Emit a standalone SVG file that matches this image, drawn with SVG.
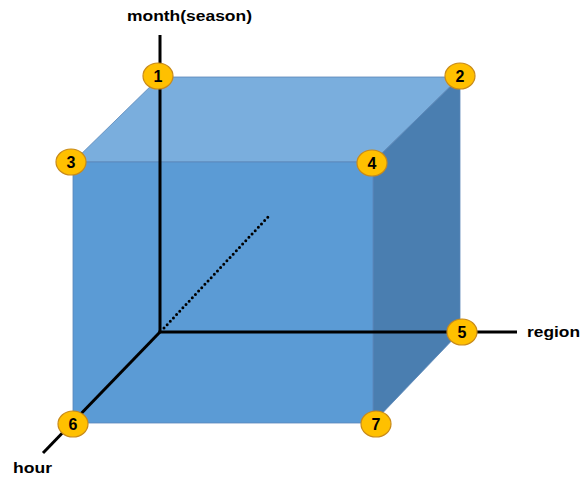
<svg xmlns="http://www.w3.org/2000/svg" width="582" height="479" viewBox="0 0 582 479">
<style>
.face{stroke:#5a86b8;stroke-width:0.8}
.axis{stroke:#000;stroke-width:3;fill:none}
.badge ellipse{fill:#ffc000;stroke:#c88a1a;stroke-width:1.2}
.badge text{font-family:"Liberation Sans",Arial,sans-serif;font-weight:bold;font-size:16px;fill:#000;text-anchor:middle}
.label{font-family:"Liberation Sans",Arial,sans-serif;font-weight:bold;font-size:15px;fill:#000}
</style>
<rect width="582" height="479" fill="#fff"/>
<g id="cube">
<polygon class="face" points="73,162 160,77 460,77 373,162" fill="#7aaedd"/>
<polygon class="face" points="373,162 460,77 460,332 373,423" fill="#4a7eb0"/>
<rect class="face" x="73" y="162" width="300" height="261" fill="#5b9bd5"/>
</g>
<g id="connectors">
<line class="axis" x1="160" y1="35" x2="160" y2="333"/>
<line class="axis" x1="158.5" y1="332" x2="517" y2="332"/>
<line class="axis" x1="160" y1="332" x2="43" y2="453"/>
<line x1="164" y1="328" x2="268" y2="217" stroke="#000" stroke-width="3" stroke-dasharray="0 4.6" stroke-linecap="round"/>
</g>
<g id="label-month"><text class="label" x="127" y="21" textLength="125" lengthAdjust="spacingAndGlyphs">month(season)</text></g>
<g id="label-region"><text class="label" x="527" y="337" textLength="53" lengthAdjust="spacingAndGlyphs">region</text></g>
<g id="label-hour"><text class="label" x="13" y="473" textLength="39" lengthAdjust="spacingAndGlyphs">hour</text></g>
<g id="n1" class="badge"><ellipse cx="158" cy="76" rx="15" ry="13"/><text x="158" y="82">1</text></g>
<g id="n2" class="badge"><ellipse cx="460" cy="76" rx="15" ry="13"/><text x="460" y="82">2</text></g>
<g id="n3" class="badge"><ellipse cx="71" cy="162" rx="15" ry="13"/><text x="71" y="168">3</text></g>
<g id="n4" class="badge"><ellipse cx="372" cy="163" rx="15" ry="13"/><text x="372" y="169">4</text></g>
<g id="n5" class="badge"><ellipse cx="462" cy="332" rx="15" ry="13"/><text x="462" y="338">5</text></g>
<g id="n6" class="badge"><ellipse cx="73" cy="424" rx="15" ry="13"/><text x="73" y="430">6</text></g>
<g id="n7" class="badge"><ellipse cx="376" cy="424" rx="15" ry="13"/><text x="376" y="430">7</text></g>
</svg>
